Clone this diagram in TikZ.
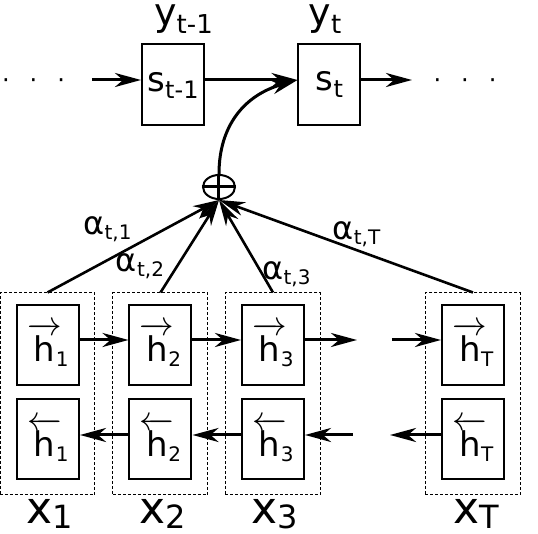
\documentclass[tikz,border=0pt]{standalone}
\usepackage{amsmath}
\usepackage{fontspec}
\setmainfont{DejaVu Sans}
\usetikzlibrary{arrows.meta,shapes.geometric}

\newcommand{\fs}[1]{\fontsize{#1}{#1}\selectfont}
\newcommand{\lab}[5]{{\fs{#1}#2}\raisebox{-#5pt}{\fs{#3}#4}}
\newcommand{\hfwd}[1]{\lab{17}{$\overrightarrow{\mbox{\,h\,}}$\hspace{-3pt}}{10}{#1}{2.5}}
\newcommand{\hbwd}[1]{\lab{17}{$\overleftarrow{\mbox{\,h\,}}$\hspace{-3pt}}{10}{#1}{2.5}}

\begin{document}
\begin{tikzpicture}[x=0.5pt, y=-0.5pt,
  >={Stealth[length=13pt,width=7pt,inset=4pt]},
  flow/.style={->, line width=1.5pt},
  weight/.style={->, line width=1.3pt},
  cell/.style={draw, line width=1pt, minimum width=31pt, minimum height=40pt, inner sep=0pt},
  group/.style={draw, line width=0.5pt, dash pattern=on 1.5pt off 1pt,
    minimum width=47.5pt, minimum height=101pt, inner sep=0pt},
  txt/.style={inner sep=0pt, anchor=base}]

\useasboundingbox (0,0) rectangle (538,534);

% encoder
\node[group] (g1) at (47.5,394) {};
\node[group] (g2) at (160.5,394) {};
\node[group] (g3) at (273,394) {};
\node[group] (gT) at (473,394) {};

\node[cell] (f1) at (48,345) {\hfwd{1}};
\node[cell] (f2) at (160.5,345) {\hfwd{2}};
\node[cell] (f3) at (273,345) {\hfwd{3}};
\node[cell] (fT) at (473,345) {\hfwd{T}};

\node[cell] (b1) at (48,439.5) {\hbwd{1}};
\node[cell] (b2) at (160.5,439.5) {\hbwd{2}};
\node[cell] (b3) at (273,439.5) {\hbwd{3}};
\node[cell] (bT) at (473,439.5) {\hbwd{T}};

\node[txt] (x1) at (50,524) {\lab{22}{x}{16}{1}{2.5}};
\node[txt] (x2) at (162.5,524) {\lab{22}{x}{16}{2}{2.5}};
\node[txt] (x3) at (275,524) {\lab{22}{x}{16}{3}{2.5}};
\node[txt] (xT) at (476,524) {\lab{22}{x}{16}{T}{2.5}};

\coordinate (fwd) at (0,340);
\coordinate (bwd) at (0,435);
\coordinate (fgapl) at (357,340);
\coordinate (fgapr) at (392,340);
\coordinate (bgapl) at (390,435);
\coordinate (bgapr) at (353,435);

\draw[flow] (f1.east |- fwd) -- (f2.west |- fwd);
\draw[flow] (f2.east |- fwd) -- (f3.west |- fwd);
\draw[flow] (f3.east |- fwd) -- (fgapl);
\draw[flow] (fgapr) -- (fT.west |- fwd);

\draw[flow] (b2.west |- bwd) -- (b1.east |- bwd);
\draw[flow] (b3.west |- bwd) -- (b2.east |- bwd);
\draw[flow] (bgapr) -- (b3.east |- bwd);
\draw[flow] (bT.west |- bwd) -- (bgapl);

% attention
\node[draw, ellipse, line width=1pt, minimum width=16pt, minimum height=12pt, inner sep=0pt] (plus) at (219,187) {};
\draw[line width=1.5pt] (plus.north) -- (plus.south) (plus.west) -- (plus.east);

\draw[weight] (g1.north) -- (plus.south);
\draw[weight] (g2.north) -- (plus.south);
\draw[weight] (g3.north) -- (plus.south);
\draw[weight] (gT.north) -- (plus.south);

\node[txt] (a1) at (107.5,235) {\lab{16}{α}{10}{t,1}{2.5}};
\node[txt] (a2) at (140,272) {\lab{16}{α}{10}{t,2}{2.5}};
\node[txt] (a3) at (286.5,280) {\lab{16}{α}{10}{t,3}{2.5}};
\node[txt] (aT) at (356.5,240) {\lab{16}{α}{10}{t,T}{2.5}};

% decoder
\node[cell, minimum height=40.5pt] (s1) at (173,85) {\lab{17}{s}{12}{t-1}{3.5}};
\node[cell, minimum height=40.5pt] (st) at (329.5,84.5) {\lab{17}{s}{12}{t}{3.5}};
\node[txt] (y1) at (183.5,26) {\lab{19}{y}{13}{t-1}{4}};
\node[txt] (yt) at (325,26) {\lab{19}{y}{13}{t}{4}};

\coordinate (row) at (0,80);
\coordinate (sin) at (92,80);
\coordinate (sout) at (412,80);
\node[txt] (dl) at (33.5,89) {\fs{12}·\hspace{10pt}·\hspace{10pt}·};
\node[txt] (dr) at (465,89) {\fs{12}·\hspace{10pt}·\hspace{10pt}·};

\draw[flow] (sin) -- (s1.west |- row);
\draw[flow] (s1.east |- row) -- (st.west |- row);
\draw[flow] (st.east |- row) -- (sout);
\draw[flow] (plus.north) .. controls (219,125) and (245,95) .. (st.west |- row);
\end{tikzpicture}
\end{document}
